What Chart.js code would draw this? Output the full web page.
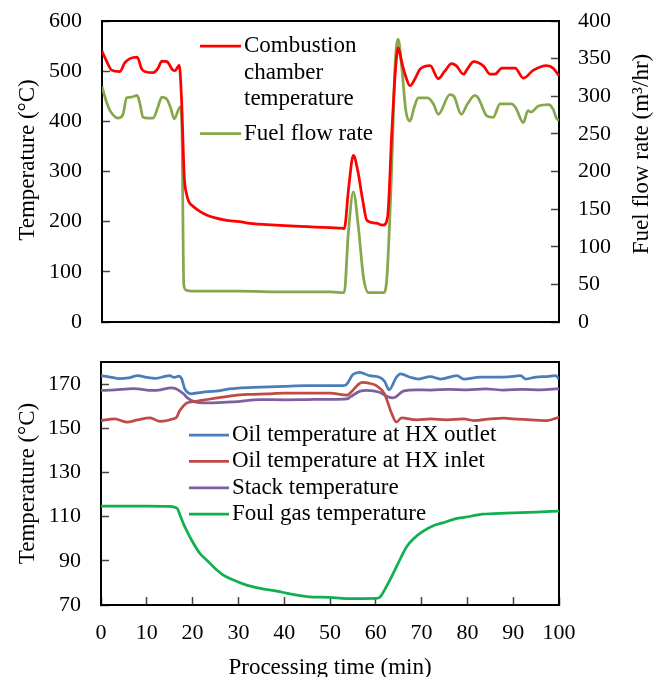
<!DOCTYPE html>
<html>
<head>
<meta charset="utf-8">
<script src="https://cdn.jsdelivr.net/npm/chart.js@4.4.0/dist/chart.umd.min.js"></script>
<style>
  html, body { margin: 0; padding: 0; background: #fff; }
  canvas { position: absolute; left: 0; }
  #chartTop { top: 0; }
  #chartBottom { top: 345px; }
</style>
</head>
<body>
<canvas id="chartTop" width="662" height="345"></canvas>
<canvas id="chartBottom" width="662" height="332"></canvas>
<script>
// ---- top chart: combustion chamber temperature (left axis) and fuel flow (right axis)
const combTime = [0, 1, 2.1, 3.9, 5, 6.1, 7.7, 8.7, 9.5, 11.2, 12.2, 13.1, 14.2, 15.5, 16, 16.9, 17.4, 18, 18.5, 19,
  20, 21.5, 23, 25, 27, 30, 33, 36, 40, 45, 50, 52.5, 53, 54, 55, 56, 57, 58, 60, 61.5,
  62.5, 63.4, 64.2, 64.8, 65.5, 66.3, 67.4, 68.5, 69.6, 71.8, 73.6, 75, 76.5, 77.5, 79.1, 80, 81.3, 83.5, 84.9, 86,
  87.5, 90.4, 92.2, 94.4, 97.3, 98.7, 100];
const combTemp = [540, 520, 502, 499, 517, 525, 528, 504, 499, 497, 505, 520, 519, 502, 501, 512, 445, 290, 255, 240,
  230, 220, 213, 207, 203, 200, 196, 194, 192, 190, 188, 187, 186, 270, 332, 300, 245, 202, 197, 193,
  210, 375, 500, 547, 522, 494, 471, 485, 504, 511, 485, 500, 515, 511, 494, 505, 519, 510, 494, 494,
  506, 506, 486, 502, 511, 506, 491];

const fuelTime = [0, 1, 1.75, 3, 3.6, 4.6, 5.4, 6.5, 7.7, 8.3, 9, 10, 11.2, 12.2, 13.1, 14.2, 15, 15.8, 17.1, 17.5,
  17.9, 18.5, 20, 30, 40, 50, 53, 53.9, 55, 56.1, 57.2, 58.3, 61.6, 62.3, 63.4, 64.1, 64.8, 65.6, 66.5, 67.4,
  68.3, 69.2, 71.3, 72.5, 73.6, 76.1, 77, 78.6, 80, 81.6, 82.3, 84.2, 85.6, 87.1, 89.6, 90.5, 92.2, 93.2, 93.9, 95.5,
  97.7, 98.7, 99.5, 100];
const fuelRate = [313, 292, 281, 272, 271, 276, 298, 299, 301, 290, 272, 271, 271, 285, 299, 296, 285, 270, 286, 254,
  49, 42, 41, 41, 40, 40, 39, 118, 173, 126, 60, 39, 39, 56, 206, 338, 376, 338, 280, 267,
  285, 298, 298, 290, 276, 302, 300, 276, 290, 301, 298, 274, 272, 290, 290, 285, 265, 281, 279, 287,
  289, 283, 270, 268];

// ---- bottom chart: oil, stack and foul gas temperatures
const outletTime = [0, 2, 4, 6, 8, 10, 12, 14, 15, 16, 17, 17.6, 18.3, 19.7, 22, 25, 28, 30, 35, 40,
  45, 50, 53, 53.6, 55, 56.5, 58.6, 60.8, 61.9, 62.9, 64.5, 65.4, 67.5, 69.3, 71.9, 74.1, 77.7, 79.2, 82.8, 86.5,
  89, 91.6, 92.7, 95, 97.4, 99.2, 100];
const outletTemp = [173.8, 173.2, 172.5, 172.8, 173.8, 173, 172.6, 173.5, 173.8, 173, 173.6, 172.5, 167.8, 165.6, 166.3, 166.8, 167.8, 168.2, 168.6, 169,
  169.3, 169.3, 169.3, 169.8, 174.3, 175.3, 173.8, 173.1, 171.3, 167.4, 173.1, 174.6, 173.1, 172.3, 173.4, 172.3, 173.8, 172.3, 173.1, 173.1,
  173.3, 173.8, 172.3, 173.2, 173.4, 173.8, 172.3];

const inletTime = [0, 3, 5.6, 8, 10.7, 12.9, 15.8, 16.5, 17.2, 18.6, 20, 21.6, 25, 28.9, 32, 36.2, 40, 45, 50, 53.7,
  54.8, 56, 57, 58.5, 60.1, 61.9, 63.5, 64.5, 65.6, 68.9, 72, 75.4, 79.2, 81.4, 85, 88, 90.1, 93.8, 97.4, 100];
const inletTemp = [153.5, 154.2, 152.8, 153.8, 154.7, 153.1, 154.3, 155, 158, 161.3, 162, 162.5, 163.6, 164.8, 165.3, 165.6, 165.9, 165.9, 165.9, 165,
  166.8, 169.5, 170.8, 170.4, 169.3, 165.6, 156.5, 152.8, 154.7, 153.8, 154.2, 153.8, 154.2, 153.5, 154.2, 154.6, 154.2, 153.8, 153.5, 155];

const stackTime = [0, 3, 7.1, 11.5, 13, 15.3, 16.5, 18, 19, 20.2, 23, 27.4, 30, 34.7, 40, 45, 50, 53.7, 54.5, 56.6,
  58, 60.8, 62.6, 63.8, 66, 68.9, 72, 76, 80, 84, 88, 92, 96, 100];
const stackTemp = [167.1, 167.4, 167.9, 167.1, 167.4, 168.3, 167.8, 165.6, 163.5, 162.2, 161.5, 161.8, 162.1, 163, 162.9, 163, 163.1, 163.3, 164.3, 166.8,
  167.1, 166.3, 164.3, 163.8, 166.8, 167.4, 167.3, 167.6, 167.4, 167.8, 167.3, 167.6, 167.4, 167.9];

const gasTime = [0, 5, 10, 15, 16, 16.7, 17.2, 18.3, 19.8, 21.6, 23.1, 25.3, 26.7, 28.9, 31.8, 34.8, 38.4, 41.3, 45, 50,
  53.6, 60.1, 60.8, 62.3, 63.8, 65.5, 66.7, 68.3, 70.1, 72.8, 74.6, 77.5, 79.6, 83.3, 88.4, 94.9, 100];
const gasTemp = [114.8, 114.8, 114.8, 114.6, 114.3, 113.6, 111, 105.4, 99.3, 93.3, 90.3, 85.8, 83.5, 81.3, 79, 77.5, 76.3, 75, 73.8, 73.4,
  72.9, 73, 73.4, 78.3, 84.3, 91.5, 96.3, 100.1, 103.1, 106.1, 107.2, 109.1, 109.8, 111.1, 111.6, 112, 112.5];

// tick labels
const topTempTicks = [0, 100, 200, 300, 400, 500, 600];
const topFuelTicks = [0, 50, 100, 150, 200, 250, 300, 350, 400];
const bottomTempTicks = [70, 90, 110, 130, 150, 170];
const timeTicks = [0, 10, 20, 30, 40, 50, 60, 70, 80, 90, 100];

const serif = "'Liberation Serif', 'Times New Roman', serif";
Chart.defaults.font.family = serif;
Chart.defaults.color = '#000';

const pts = (xs, ys) => xs.map((x, i) => ({ x: x, y: ys[i] }));
const useTicks = (arr) => (s) => { s.ticks = arr.map(v => ({ value: v })); };
const axisBorder = { display: true, color: '#000', width: 2 };
const tickFont = { size: 22 };

// fixed scale size; tick padding must not push the plot area around
const fixSize = (size) => (s) => {
  if (s.isHorizontal()) { s.height = size; s.paddingLeft = 0; s.paddingRight = 0; }
  else { s.width = size; s.paddingTop = 0; s.paddingBottom = 0; }
};

// frame-only axis (no ticks, no labels)
const frameAxis = (position, size) => ({
  type: 'linear', position: position, min: 0, max: 100,
  ticks: { display: false },
  grid: { drawOnChartArea: false, drawTicks: false },
  border: axisBorder,
  afterFit: fixSize(size)
});

const innerTicks = { drawOnChartArea: false, tickLength: -8, tickColor: '#444', tickWidth: 1.5 };

const line = (label, data, color, axis) => ({
  label: label, data: data, yAxisID: axis || 'y',
  borderColor: color, backgroundColor: color, borderWidth: 2.75,
  pointRadius: 0, cubicInterpolationMode: 'monotone', fill: false
});

// legend drawn inside the plot area, labels may have several lines
const insideLegend = {
  id: 'insideLegend',
  afterDatasetsDraw(chart, args, opts) {
    const ctx = chart.ctx;
    ctx.save();
    ctx.font = opts.size + 'px ' + serif;
    ctx.textBaseline = 'middle';
    ctx.fillStyle = '#000';
    let y = opts.y;
    chart.data.datasets.forEach(ds => {
      const lines = [].concat(ds.label);
      ctx.strokeStyle = ds.borderColor;
      ctx.lineWidth = ds.borderWidth;
      ctx.beginPath();
      ctx.moveTo(opts.x, y);
      ctx.lineTo(opts.x + opts.lineLen, y);
      ctx.stroke();
      lines.forEach((t, i) => ctx.fillText(t, opts.x + opts.lineLen + opts.gap, y + i * opts.row));
      y += lines.length * opts.row + opts.groupGap;
    });
    ctx.restore();
  }
};

// vertical axis titles reading bottom to top
const sideTitles = {
  id: 'sideTitles',
  afterDraw(chart, args, opts) {
    const ctx = chart.ctx;
    (opts.items || []).forEach(it => {
      ctx.save();
      ctx.font = opts.size + 'px ' + serif;
      ctx.fillStyle = '#000';
      ctx.textAlign = 'center';
      ctx.textBaseline = 'middle';
      ctx.translate(it.x, it.y);
      ctx.rotate(-Math.PI / 2);
      ctx.fillText(it.text, 0, 0);
      ctx.restore();
    });
  }
};

const chartTop = new Chart(document.getElementById('chartTop'), {
  type: 'line',
  data: {
    datasets: [
      line(['Combustion', 'chamber', 'temperature'], pts(combTime, combTemp), '#FF0000', 'y'),
      line('Fuel flow rate', pts(fuelTime, fuelRate), '#86A84C', 'y1')
    ]
  },
  options: {
    responsive: false,
    animation: false,
    layout: { padding: 0, autoPadding: false },
    plugins: {
      legend: { display: false },
      tooltip: { enabled: false },
      insideLegend: { x: 200, y: 46, lineLen: 41, gap: 3, row: 26.7, groupGap: 7.5, size: 23 },
      sideTitles: {
        size: 23,
        items: [
          { text: 'Temperature (°C)', x: 28, y: 160 },
          { text: 'Fuel flow rate (m³/hr)', x: 642, y: 154 }
        ]
      }
    },
    scales: {
      x: frameAxis('bottom', 23),
      xTop: frameAxis('top', 21),
      y: {
        position: 'left', min: 0, max: 600,
        afterBuildTicks: useTicks(topTempTicks),
        ticks: { font: tickFont, padding: 28 },
        grid: innerTicks,
        border: axisBorder,
        afterFit: fixSize(102)
      },
      y1: {
        position: 'right', min: 0, max: 400,
        afterBuildTicks: useTicks(topFuelTicks),
        ticks: { font: tickFont, padding: 27 },
        grid: innerTicks,
        border: axisBorder,
        afterFit: fixSize(103)
      }
    }
  },
  plugins: [insideLegend, sideTitles]
});

const chartBottom = new Chart(document.getElementById('chartBottom'), {
  type: 'line',
  data: {
    datasets: [
      line('Oil temperature at HX outlet', pts(outletTime, outletTemp), '#4A7EBB'),
      line('Oil temperature at HX inlet', pts(inletTime, inletTemp), '#BE4B48'),
      line('Stack temperature', pts(stackTime, stackTemp), '#7D60A0'),
      line('Foul gas temperature', pts(gasTime, gasTemp), '#10B050')
    ]
  },
  options: {
    responsive: false,
    animation: false,
    layout: { padding: 0, autoPadding: false },
    plugins: {
      legend: { display: false },
      tooltip: { enabled: false },
      insideLegend: { x: 189, y: 90, lineLen: 40, gap: 3, row: 26.4, groupGap: 0, size: 23 }
    },
    scales: {
      x: {
        type: 'linear', position: 'bottom', min: 0, max: 100,
        afterBuildTicks: useTicks(timeTicks),
        ticks: { font: tickFont, padding: 23, maxRotation: 0 },
        grid: innerTicks,
        border: axisBorder,
        title: { display: true, text: 'Processing time (min)', font: { size: 23, lineHeight: 1 }, padding: { top: 0, bottom: -2 } },
        afterFit: fixSize(72)
      },
      xTop: frameAxis('top', 17),
      y: {
        position: 'left', min: 70, max: 180,
        afterBuildTicks: useTicks(bottomTempTicks),
        ticks: { font: tickFont, padding: 28 },
        grid: innerTicks,
        border: axisBorder,
        title: { display: true, text: 'Temperature (°C)', font: { size: 23 }, padding: { top: 14 } },
        afterFit: fixSize(101)
      },
      yRight: frameAxis('right', 103)
    }
  },
  plugins: [insideLegend]
});
</script>
</body>
</html>
